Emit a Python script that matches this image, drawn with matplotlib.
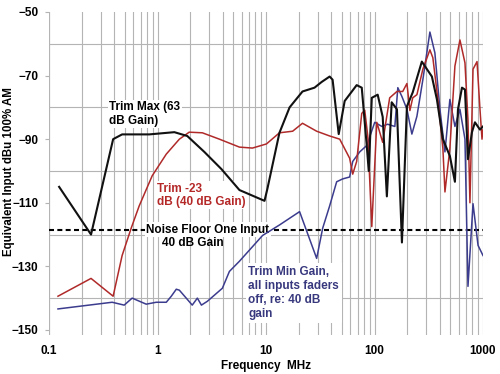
import matplotlib
matplotlib.use('Agg')
import matplotlib.pyplot as plt
from matplotlib.ticker import FixedLocator, NullFormatter

plt.rcParams['font.family'] = ['Liberation Sans', 'DejaVu Sans']
plt.rcParams['font.weight'] = 'bold'
plt.rcParams['font.size'] = 8.5

# Trim Max (63 dB gain)
max_f = [0.124, 0.244, 0.39, 0.472, 0.84, 1.43, 1.88, 2.7, 3.88, 5.69, 9.69, 10.3,
         13.3, 16.5, 21.7, 28.0, 32.6, 38.6, 41.1, 46.8, 53.1, 68.5, 76.3, 84.8,
         88.5, 94.4, 107, 119, 130, 144, 161, 179, 199, 225, 273, 338, 376, 427,
         495, 551, 588, 640, 682, 727, 791, 843, 938, 1000]
max_db = [-105, -120, -90, -88.5, -88.5, -87.8, -89, -94, -99.4, -106, -109.4, -105.6,
          -88, -80, -75, -73.8, -72, -70.3, -71.3, -88.4, -78, -73, -73.8, -92,
          -100, -77, -76, -83, -108, -78.4, -80.6, -122.5, -79.7, -75.3, -65.6, -70.3, -77.5, -90,
          -95.3, -103.4, -80.6, -73.8, -74.4, -96.3, -87.8, -84.7, -87, -86]

# Trim -23 dB (40 dB gain)
mid_f = [0.121, 0.244, 0.39, 0.472, 0.572, 0.678, 0.894, 1.205, 1.59, 1.96, 2.59, 3.72,
         5.69, 7.5, 10.1, 13.3, 17.6, 21.7, 29.3, 38.6, 47.8, 59, 63, 68.5, 76.3,
         81.3, 86.7, 94.4, 105, 119, 138, 161, 182, 199, 212, 225, 246, 279, 324,
         345, 384, 427, 446, 495, 551, 613, 682, 727, 758, 809, 881, 938, 979, 1000]
mid_db = [-139.4, -133.8, -139.4, -126.6, -118, -111, -101.5, -94.7, -90, -87.8, -88, -90,
          -92.5, -92.8, -91.5, -88, -87.5, -85, -87.5, -89, -90, -96, -101, -97, -81.9,
          -80.9, -89, -117.5, -84.7, -91, -77, -75, -75, -72.5, -81, -77, -76, -68, -61.9,
          -64.4, -77.5, -93, -106.6, -93, -67, -58.8, -66, -84, -110, -68, -65.6, -80.6, -90, -87]

# Trim Min gain, all input faders off
min_f = [0.121, 0.382, 0.493, 0.584, 0.787, 0.973, 1.205, 1.34, 1.49, 1.59, 1.84, 2.09,
         2.33, 2.54, 2.88, 3.96, 4.6, 5.69, 9.29, 13.3, 20.4, 29.3, 33.3, 38.6, 44.8,
         50.9, 59, 63, 73.1, 84.8, 100.5, 117, 132, 154, 164, 179, 199, 221, 246,
         279, 324, 360, 401, 446, 495, 551, 613, 682, 727, 809, 900, 1000]
min_db = [-143.4, -141.3, -142.2, -140, -141.9, -141.3, -141.3, -139.4, -137.2, -137.5, -140, -142.2,
          -140, -142.2, -141, -136.9, -131.6, -128.4, -120.3, -117, -112.8, -127.5, -118, -111, -103.4,
          -102.5, -101.9, -97, -94, -92, -84.7, -86, -85.3, -86, -73.8, -76.6, -80.6, -88.4, -82.8,
          -71.3, -56.3, -62.8, -80.6, -94, -77.5, -86, -80.6, -90, -136.3, -110.3, -123.4, -126.6]

noise_floor = -118.5

y_ticks = [-150, -130, -110, -90, -70, -50]
y_grid = [-140, -120, -100, -80, -60]
x_ticks = [0.1, 1, 10, 100, 1000]
x_labels = ['0.1', '1', '10', '100', '1000']

fig = plt.figure(figsize=(5.0, 3.74), dpi=100)
ax = fig.add_axes([0.098, 1 - 335 / 374, 0.868, (335 - 12) / 374])

ax.set_xscale('log')
ax.set_xlim(0.1, 1000)
ax.set_ylim(-151.6, -50)

grid_c = '#b4b4b4'
ax.xaxis.set_major_locator(FixedLocator(x_ticks))
ax.xaxis.set_minor_locator(FixedLocator([m * d for d in [0.1, 1, 10, 100] for m in range(2, 10)]))
ax.xaxis.set_minor_formatter(NullFormatter())
ax.set_xticks(x_ticks, x_labels)
ax.grid(True, which='both', axis='x', color=grid_c, lw=0.8)
for v in y_grid:
    ax.axhline(v, color=grid_c, lw=0.8, zorder=0.5)
ax.set_yticks(y_ticks)
ax.tick_params(axis='y', length=3, color=grid_c, pad=4.5, labelsize=8.5)
ax.tick_params(axis='x', which='both', length=0, pad=7, labelsize=8.5)
for s in ax.spines.values():
    s.set_visible(False)
ax.axvline(0.1, color=grid_c, lw=0.8, zorder=0.5)
ax.set_axisbelow(True)

ax.axhline(noise_floor, color='black', lw=1.5, dashes=(2.4, 1.6), zorder=1.5)

ax.plot(min_f, min_db, color='#3c3c8e', lw=1.1, zorder=3)
ax.plot(mid_f, mid_db, color='#b02a2a', lw=1.1, zorder=3.1)
ax.plot(max_f, max_db, color='#111111', lw=1.5, zorder=3.2)

box = dict(facecolor='white', edgecolor='none', pad=1.0)
ax.text(0.358, -78.1, 'Trim Max (63\ndB Gain)', ha='left', va='top', color='black',
        fontweight='bold', linespacing=1.15, bbox=box, zorder=2)
ax.text(0.995, -103.7, 'Trim -23\ndB (40 dB Gain)', ha='left', va='top', color='#b52828',
        fontweight='bold', linespacing=1.15, bbox=box, zorder=2)
ax.text(0.787, noise_floor, 'Noise Floor One Input', ha='left', va='center', color='black',
        fontweight='bold', bbox=box, zorder=2)
ax.text(1.106, -122.6, '40 dB Gain', ha='left', va='center', color='black',
        fontweight='bold', zorder=2)
ax.text(6.89, -130, 'Trim Min Gain,\nall inputs faders\noff, re: 40 dB\ngain', ha='left', va='top',
        color='#38387e', fontweight='bold', linespacing=1.2,
        bbox=dict(facecolor='white', edgecolor='none', pad=2.0), zorder=2)

ax.set_xlabel('Frequency  MHz', fontweight='bold', fontsize=8.5, labelpad=2)
fig.text(9 / 500, 1 - 172 / 374, 'Equivalent Input dBu 100% AM', rotation=90,
         ha='center', va='center', fontweight='bold', fontsize=8.3)

fig.savefig('out.png', dpi=100)
